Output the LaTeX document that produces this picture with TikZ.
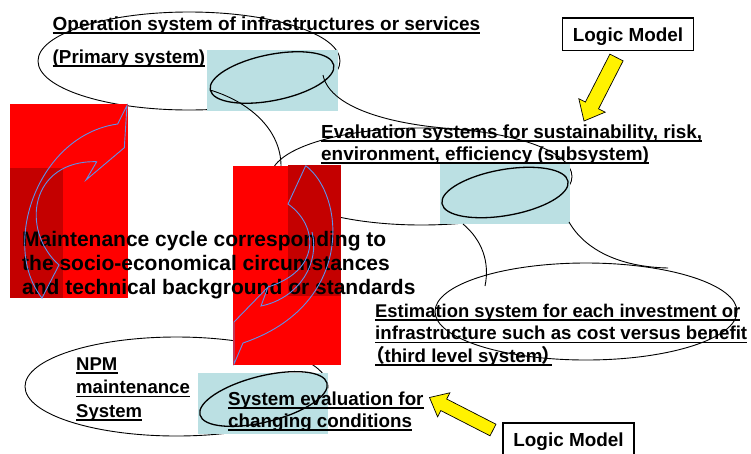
\documentclass[tikz,border=0pt]{standalone}
\usepackage{fontspec}
\setmainfont{Liberation Sans}
\newfontfamily\cjkfont[RawFeature=+palt]{Noto Sans CJK JP}
\usetikzlibrary{shapes.geometric,calc}
\definecolor{lblue}{RGB}{187,224,227}
\definecolor{dred}{RGB}{196,0,0}
\definecolor{cblue}{RGB}{95,145,235}
\tikzset{
 bigell/.style={ellipse, draw, line width=0.9pt, inner sep=0pt},
 smallell/.style={ellipse, draw, line width=1.3pt, inner sep=0pt},
 conn/.style={line width=0.9pt},
 lbl/.style={anchor=base west, inner sep=0pt, font=\bfseries\fontsize{18.7}{22}\selectfont},
 ulline/.style={line width=1.3pt},
 logicbox/.style={draw, line width=1.6pt, fill=white, minimum width=131pt, minimum height=32.5pt, inner sep=0pt, text height=14pt, text depth=0pt, font=\bfseries\fontsize{18.9}{22}\selectfont},
 yarrow/.style={fill=yellow, draw=black, line width=0.7pt, line join=miter},
 barrow/.style={draw=cblue, line width=0.9pt, line join=miter}
}
\newcommand\ulnode[4][18.7]{%
  \node[lbl,font=\bfseries\fontsize{#1}{22}\selectfont] (#2) at (#3) {#4};
  \draw[ulline] ([yshift=-3pt]#2.base west) -- ([yshift=-3pt]#2.base east);}
\newcommand\plainnode[4][21]{%
  \node[lbl,font=\bfseries\fontsize{#1}{24}\selectfont] (#2) at (#3) {#4};}
% tail, tip, shaft half width, head half width, head length
\newcommand\yellowarrow[5]{%
  \coordinate (#1-#2-b) at ($(#2)!#5!(#1)$);
  \draw[yarrow] ($(#1)!#3!90:(#2)$) -- ($(#1-#2-b)!#3!90:(#2)$) -- ($(#1-#2-b)!#4!90:(#2)$)
    -- (#2) -- ($(#1-#2-b)!#4!-90:(#2)$) -- ($(#1-#2-b)!#3!-90:(#2)$) -- ($(#1)!#3!-90:(#2)$) -- cycle;}
\begin{document}
\begin{tikzpicture}[x=1pt,y=-1pt]
\useasboundingbox (0,0) rectangle (751,453);
\fill[white] (0,0) rectangle (751,453);

% big ellipses
\node[bigell, minimum width=302pt, minimum height=98pt] (e1) at (189,61) {};
\node[bigell, minimum width=301pt, minimum height=97pt] (e2) at (421.5,176.5) {};
\node[bigell, minimum width=302pt, minimum height=97pt] (e3) at (586,311.5) {};
\node[bigell, minimum width=303pt, minimum height=99pt] (e4) at (176.5,386.5) {};

% light blue boxes
\fill[lblue] (207,50) rectangle (338,111);
\fill[lblue] (440,163) rectangle (570,224);
\fill[lblue] (198,373) rectangle (328,434);

% inner ellipses
\node[smallell, minimum width=126pt, minimum height=46pt, rotate=11.4] (s1) at (272,77.5) {};
\node[smallell, minimum width=128pt, minimum height=46pt, rotate=10] (s2) at (505,192.5) {};
\node[smallell, minimum width=131pt, minimum height=46pt, rotate=14] (s3) at (263.5,399) {};

% connector ends
\coordinate (c1a) at (210,90);
\coordinate (c1b) at (281,166);
\coordinate (c2a) at (323,75);
\coordinate (c2b) at (478,130);
\coordinate (c3a) at (463,224);
\coordinate (c3b) at (485,286);
\coordinate (c4a) at (569,222);
\coordinate (c4b) at (668,268);

\draw[conn] (c1a) .. controls (250,102) and (281,130) .. (c1b);
\draw[conn] (c2a) .. controls (330,110) and (400,128) .. (c2b);
\draw[conn] (c3a) .. controls (482,240) and (490,262) .. (c3b);
\draw[conn] (c4a) .. controls (585,250) and (620,267) .. (c4b);

% texts
\ulnode[18.95]{t1}{52.5,30}{Operation system of infrastructures or services}
\ulnode[18.8]{t2}{52.5,63}{(Primary system)}
\ulnode[18.9]{t3}{321,138}{Evaluation systems for sustainability, risk,}
\ulnode[18.9]{t4}{321,160}{environment, efficiency (subsystem)}
\ulnode[18.4]{t5}{375,317}{Estimation system for each investment or}
\ulnode[18.7]{t6}{375,339.5}{infrastructure such as cost versus benefit}
\ulnode[18.7]{t7}{375,362}{{\cjkfont （}third level system{\cjkfont ）}}
\ulnode[18.5]{t8}{76,370}{NPM}
\ulnode[18.6]{t9}{76,393.5}{maintenance}
\ulnode[18.5]{t10}{76,417}{System}
\ulnode[18.8]{t11}{228,405}{System evaluation for}
\ulnode[18.8]{t12}{228,427}{changing conditions}

% red panels
\fill[red] (10,104) rectangle (128,298);
\fill[dred] (10,168) rectangle (63,298);
\fill[red] (233,166) rectangle (341,365);
\fill[dred] (288,165) rectangle (341,296);

% maintenance text
\plainnode{m1}{22,246}{Maintenance cycle corresponding to}
\plainnode{m2}{22,270}{the socio-economical circumstances}
\plainnode{m3}{22,294}{and technical background or standards}

% blue curved arrows (outlines)
\draw[barrow] (42,298) .. controls (0,245) and (38,135) .. (117.7,124) -- (127,105.5)
  -- (124.3,147.7) -- (86,180) -- (96.7,161.7) .. controls (30,160) and (20,230) .. (59,265) -- cycle;
\draw[barrow] (305.7,165.7) .. controls (345,195) and (355,305) .. (243,343) -- (234,364)
  -- (234,322) -- (268,287) -- (261,306) .. controls (300,298) and (320,262) .. (312,232);
\draw[barrow] (305.7,165.7) -- (288,204) .. controls (318,225) and (322,270) .. (268,287);

% logic model boxes
\node[logicbox] (lm1) at (628,34.2) {Logic Model};
\node[logicbox] (lm2) at (568.5,439.2) {Logic Model};

% yellow arrows
\coordinate (ya1) at (616.5,57.5);
\coordinate (yb1) at (584,121);
\coordinate (ya2) at (493,430);
\coordinate (yb2) at (429.5,397.5);
\yellowarrow{ya1}{yb1}{7.4pt}{14.8pt}{17.5pt}
\yellowarrow{ya2}{yb2}{6.5pt}{13.5pt}{16pt}
\end{tikzpicture}
\end{document}
